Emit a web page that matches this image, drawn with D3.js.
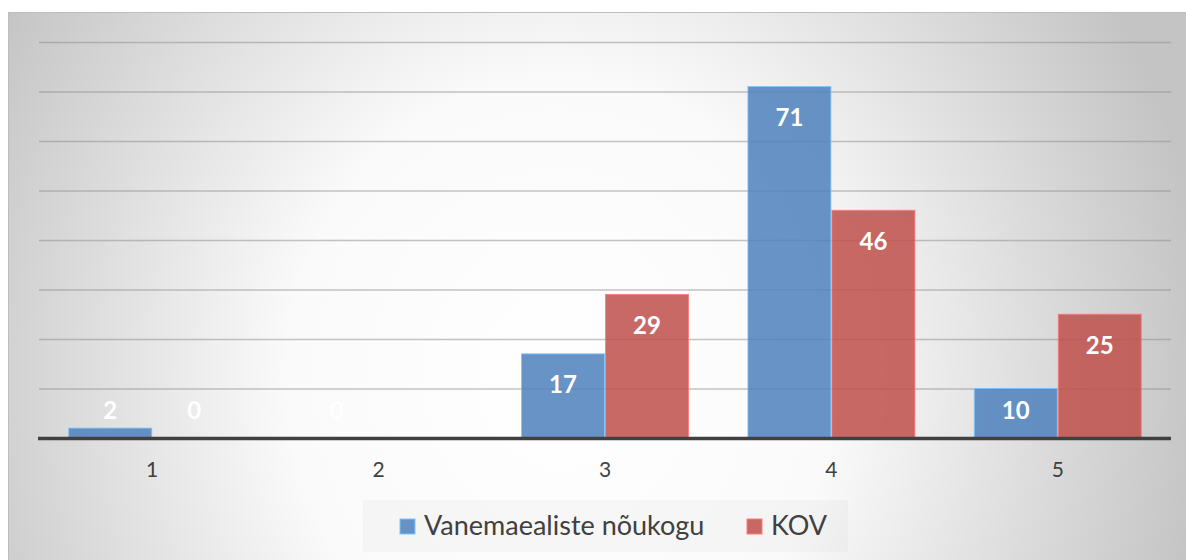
<!DOCTYPE html>
<html>
<head>
<meta charset="utf-8">
<script src="https://cdn.jsdelivr.net/npm/d3@7"></script>
<style>
  html, body { margin: 0; padding: 0; background: #fff; }
  svg { display: block; }
</style>
</head>
<body>
<div id="chart"></div>
<script>
const width = 1186;
const height = 560;

const categories = ["1", "2", "3", "4", "5"];
const seriesNames = ["Vanemaealiste nõukogu", "KOV"];
const councilValues = [2, 0, 17, 71, 10];
const kovValues = [0, null, 29, 46, 25];
const gridValues = [0, 10, 20, 30, 40, 50, 60, 70, 80];

const colors = ["#4f81bd", "#c0504d"];
const series = [councilValues, kovValues];

const plot = { left: 39, right: 1171, top: 42, bottom: 438 };

const svg = d3.select("#chart")
    .append("svg")
    .attr("width", width)
    .attr("height", height);

const defs = svg.append("defs");

// soft radial background like the office chart style
const bg = defs.append("radialGradient")
    .attr("id", "bg")
    .attr("gradientUnits", "userSpaceOnUse")
    .attr("cx", 0).attr("cy", 0).attr("r", 1)
    .attr("gradientTransform", "translate(560,380) scale(650,720)");
bg.append("stop").attr("offset", "0%").attr("stop-color", "#ffffff");
bg.append("stop").attr("offset", "42%").attr("stop-color", "#fafafa");
bg.append("stop").attr("offset", "100%").attr("stop-color", "#c4c4c4");

svg.append("rect")
    .attr("x", 8.5).attr("y", 12.5)
    .attr("width", width - 8).attr("height", height - 12)
    .attr("fill", "url(#bg)")
    .attr("stroke", "#bdbdbd")
    .attr("stroke-width", 1);

const x = d3.scaleBand()
    .domain(categories)
    .range([plot.left, plot.right])
    .paddingInner(0.258)
    .paddingOuter(0.129);

const xInner = d3.scaleBand()
    .domain(d3.range(series.length))
    .range([0, x.bandwidth()]);

const y = d3.scaleLinear()
    .domain([0, 80])
    .range([plot.bottom, plot.top]);

// gridlines
svg.append("g")
    .selectAll("line")
    .data(gridValues.slice(1))
    .enter().append("line")
    .attr("x1", plot.left).attr("x2", plot.right)
    .attr("y1", d => y(d) + 0.5).attr("y2", d => y(d) + 0.5)
    .attr("stroke", "#8c8c8c")
    .attr("stroke-opacity", 0.5)
    .attr("stroke-width", 1.5);

// bars
const groups = svg.append("g")
    .selectAll("g")
    .data(categories)
    .enter().append("g")
    .attr("transform", d => `translate(${x(d)},0)`);

const barData = (c, i) => series.map((vals, s) => ({ s: s, v: vals[i] }));

groups.selectAll("rect")
    .data(barData)
    .enter().append("rect")
    .filter(d => d.v != null && d.v > 0)
    .attr("x", d => xInner(d.s) + 0.5)
    .attr("width", xInner.bandwidth() - 1)
    .attr("y", d => y(d.v))
    .attr("height", d => y(0) - y(d.v))
    .attr("fill", d => colors[d.s])
    .attr("fill-opacity", 0.86)
    .attr("stroke", d => d3.color(colors[d.s]).brighter(1.2))
    .attr("stroke-opacity", 0.8)
    .attr("stroke-width", 1);

// value labels
groups.selectAll("text")
    .data(barData)
    .enter().append("text")
    .filter(d => d.v != null)
    .attr("x", d => xInner(d.s) + xInner.bandwidth() / 2)
    .attr("y", d => Math.min(y(d.v) + 31, y(0) - 28))
    .attr("dy", "0.36em")
    .attr("text-anchor", "middle")
    .attr("fill", "#ffffff")
    .attr("font-family", "Lato, 'Open Sans', sans-serif")
    .attr("font-weight", "700")
    .attr("font-size", "24px")
    .text(d => d.v);

// baseline
svg.append("line")
    .attr("x1", plot.left - 1).attr("x2", plot.right)
    .attr("y1", y(0) + 0.5).attr("y2", y(0) + 0.5)
    .attr("stroke", "#404040")
    .attr("stroke-width", 3.5);

// x axis labels
const xAxis = svg.append("g")
    .attr("transform", `translate(0,${plot.bottom})`)
    .call(d3.axisBottom(x).tickSize(0).tickPadding(24));
xAxis.select(".domain").remove();
xAxis.selectAll("text")
    .attr("fill", "#404040")
    .attr("font-family", "Lato, 'Open Sans', sans-serif")
    .attr("font-size", "21px");

// legend
svg.append("rect")
    .attr("x", 363).attr("y", 500)
    .attr("width", 485).attr("height", 52)
    .attr("fill", "#808080")
    .attr("fill-opacity", 0.05);

const legendX = [400, 747];
const legend = svg.append("g")
    .selectAll("g")
    .data(seriesNames)
    .enter().append("g")
    .attr("transform", (d, i) => `translate(${legendX[i]},519)`);

legend.append("rect")
    .attr("width", 15).attr("height", 15)
    .attr("fill", (d, i) => colors[i])
    .attr("fill-opacity", 0.86)
    .attr("stroke", (d, i) => d3.color(colors[i]).brighter(1.2))
    .attr("stroke-width", 1);

legend.append("text")
    .attr("x", 24)
    .attr("y", 16)
    .attr("fill", "#404040")
    .attr("font-family", "Lato, 'Open Sans', sans-serif")
    .attr("font-size", "27px")
    .text(d => d);
</script>
</body>
</html>
